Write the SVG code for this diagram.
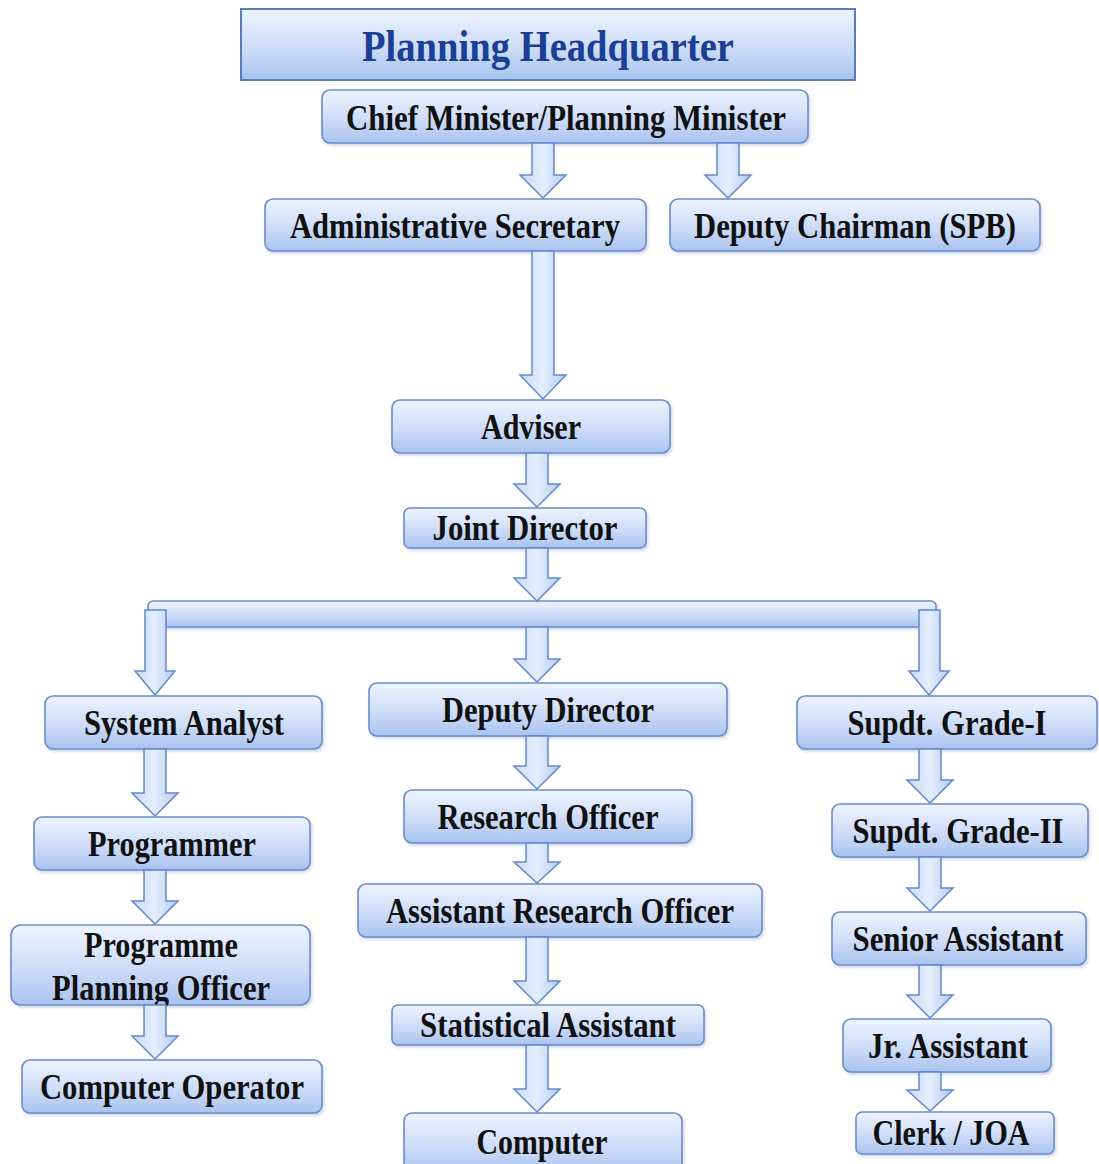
<svg xmlns="http://www.w3.org/2000/svg" width="1099" height="1164" viewBox="0 0 1099 1164">
<defs>
<linearGradient id="boxg" x1="0" y1="0" x2="0" y2="1">
<stop offset="0" stop-color="#eef4ff"/>
<stop offset="0.55" stop-color="#cddcf8"/>
<stop offset="1" stop-color="#a9c3ef"/>
</linearGradient>
<linearGradient id="arrg" x1="0" y1="0" x2="1" y2="0">
<stop offset="0" stop-color="#c9dbf7"/>
<stop offset="0.5" stop-color="#e4eefd"/>
<stop offset="1" stop-color="#b4cbf1"/>
</linearGradient>
<filter id="sh" x="-5%" y="-10%" width="110%" height="130%">
<feDropShadow dx="1.5" dy="2" stdDeviation="1.5" flood-color="#7a8fb5" flood-opacity="0.35"/>
</filter>
</defs>
<style>
.box{fill:url(#boxg);stroke:#6a8dcc;stroke-width:1.6;filter:url(#sh)}
.title{fill:url(#boxg);stroke:#5a7db8;stroke-width:2}
.t{font-family:"Liberation Serif","Times New Roman",serif;font-weight:bold;font-size:36px;fill:#111;text-anchor:middle}
.tt{font-family:"Liberation Serif","Times New Roman",serif;font-weight:bold;font-size:44px;fill:#1b3f93;text-anchor:middle}
.arr{fill:url(#arrg);stroke:#6289cc;stroke-width:1.5;stroke-linejoin:miter}
</style>
<rect width="1099" height="1164" fill="#ffffff"/>

<g id="nodes">
<g id="n-title"><rect class="title" x="241" y="9" width="614" height="71"/><text class="tt" x="548" y="61" textLength="372" lengthAdjust="spacingAndGlyphs">Planning Headquarter</text></g>
<g id="n-chief"><rect class="box" x="322" y="90" width="486" height="53" rx="8"/><text class="t" x="566" y="130" textLength="440" lengthAdjust="spacingAndGlyphs">Chief Minister/Planning Minister</text></g>
<g id="n-admin"><rect class="box" x="265" y="199" width="381" height="52" rx="8"/><text class="t" x="455" y="238" textLength="330" lengthAdjust="spacingAndGlyphs">Administrative Secretary</text></g>
<g id="n-deputychair"><rect class="box" x="670" y="199" width="370" height="52" rx="8"/><text class="t" x="855" y="238" textLength="322" lengthAdjust="spacingAndGlyphs">Deputy Chairman (SPB)</text></g>
<g id="n-adviser"><rect class="box" x="392" y="400" width="278" height="53" rx="8"/><text class="t" x="531" y="439" textLength="100" lengthAdjust="spacingAndGlyphs">Adviser</text></g>
<g id="n-joint"><rect class="box" x="404" y="508" width="242" height="40" rx="6"/><text class="t" x="525" y="540" textLength="185" lengthAdjust="spacingAndGlyphs">Joint Director</text></g>
<g id="n-bar"><rect class="box" x="148" y="601" width="788" height="26" rx="5"/></g>
<g id="n-sysanalyst"><rect class="box" x="45" y="696" width="277" height="53" rx="8"/><text class="t" x="184" y="735" textLength="200" lengthAdjust="spacingAndGlyphs">System Analyst</text></g>
<g id="n-deputydir"><rect class="box" x="369" y="683" width="358" height="53" rx="8"/><text class="t" x="548" y="722" textLength="212" lengthAdjust="spacingAndGlyphs">Deputy Director</text></g>
<g id="n-supdt1"><rect class="box" x="797" y="696" width="300" height="53" rx="8"/><text class="t" x="947" y="735" textLength="199" lengthAdjust="spacingAndGlyphs">Supdt. Grade-I</text></g>
<g id="n-programmer"><rect class="box" x="34" y="817" width="276" height="53" rx="8"/><text class="t" x="172" y="856" textLength="168" lengthAdjust="spacingAndGlyphs">Programmer</text></g>
<g id="n-research"><rect class="box" x="404" y="790" width="288" height="53" rx="8"/><text class="t" x="548" y="829" textLength="221" lengthAdjust="spacingAndGlyphs">Research Officer</text></g>
<g id="n-supdt2"><rect class="box" x="832" y="804" width="256" height="53" rx="8"/><text class="t" x="958" y="843" textLength="211" lengthAdjust="spacingAndGlyphs">Supdt. Grade-II</text></g>
<g id="n-ppo"><rect class="box" x="11" y="925" width="299" height="80" rx="10"/><text class="t" x="161" y="957" textLength="154" lengthAdjust="spacingAndGlyphs">Programme</text><text class="t" x="161" y="1000" textLength="218" lengthAdjust="spacingAndGlyphs">Planning Officer</text></g>
<g id="n-aro"><rect class="box" x="358" y="884" width="404" height="53" rx="8"/><text class="t" x="560" y="923" textLength="348" lengthAdjust="spacingAndGlyphs">Assistant Research Officer</text></g>
<g id="n-senior"><rect class="box" x="832" y="912" width="254" height="53" rx="8"/><text class="t" x="958" y="951" textLength="211" lengthAdjust="spacingAndGlyphs">Senior Assistant</text></g>
<g id="n-compop"><rect class="box" x="22" y="1060" width="300" height="53" rx="8"/><text class="t" x="172" y="1099" textLength="264" lengthAdjust="spacingAndGlyphs">Computer Operator</text></g>
<g id="n-stat"><rect class="box" x="392" y="1005" width="312" height="40" rx="6"/><text class="t" x="548" y="1037" textLength="256" lengthAdjust="spacingAndGlyphs">Statistical Assistant</text></g>
<g id="n-jr"><rect class="box" x="843" y="1019" width="208" height="53" rx="8"/><text class="t" x="948" y="1058" textLength="160" lengthAdjust="spacingAndGlyphs">Jr. Assistant</text></g>
<g id="n-computer"><rect class="box" x="404" y="1113" width="278" height="62" rx="8"/><text class="t" x="542" y="1154" textLength="131" lengthAdjust="spacingAndGlyphs">Computer</text></g>
<g id="n-clerk"><rect class="box" x="856" y="1112" width="198" height="42" rx="6"/><text class="t" x="951" y="1145" textLength="157" lengthAdjust="spacingAndGlyphs">Clerk / JOA</text></g>
</g>

<g id="connectors">
<path class="arr" d="M532,143 H554 V175 H566 L543,198 L520,175 H532 Z"/>
<path class="arr" d="M717,143 H739 V175 H751 L728,198 L705,175 H717 Z"/>
<path class="arr" d="M532,251 H554 V375 H566 L543,399 L520,375 H532 Z"/>
<path class="arr" d="M526,453 H548 V484 H560 L537,507 L514,484 H526 Z"/>
<path class="arr" d="M526,548 H548 V578 H560 L537,601 L514,578 H526 Z"/>
<path class="arr" d="M145,610 H166 V671 H175 L155,695 L135,671 H145 Z"/>
<path class="arr" d="M526,627 H548 V659 H560 L537,682 L514,659 H526 Z"/>
<path class="arr" d="M919,610 H940 V671 H949 L929,695 L909,671 H919 Z"/>
<path class="arr" d="M144,749 H166 V793 H178 L155,816 L132,793 H144 Z"/>
<path class="arr" d="M144,870 H166 V901 H178 L155,924 L132,901 H144 Z"/>
<path class="arr" d="M144,1005 H166 V1036 H178 L155,1059 L132,1036 H144 Z"/>
<path class="arr" d="M526,736 H548 V766 H560 L537,789 L514,766 H526 Z"/>
<path class="arr" d="M526,843 H548 V862 H560 L537,883 L514,862 H526 Z"/>
<path class="arr" d="M526,937 H548 V981 H560 L537,1004 L514,981 H526 Z"/>
<path class="arr" d="M526,1045 H548 V1089 H560 L537,1112 L514,1089 H526 Z"/>
<path class="arr" d="M919,749 H941 V780 H953 L930,803 L907,780 H919 Z"/>
<path class="arr" d="M919,857 H941 V888 H953 L930,911 L907,888 H919 Z"/>
<path class="arr" d="M919,965 H941 V995 H953 L930,1018 L907,995 H919 Z"/>
<path class="arr" d="M919,1072 H941 V1090 H953 L930,1111 L907,1090 H919 Z"/>
</g>
</svg>
